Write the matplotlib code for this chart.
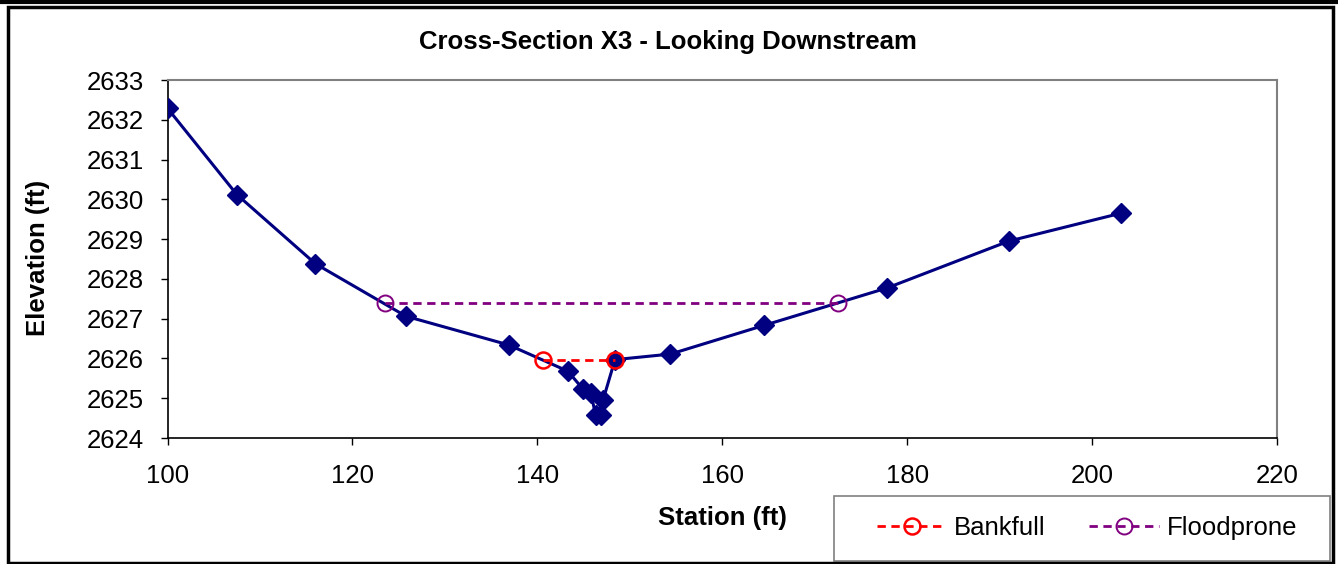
import matplotlib
matplotlib.use('Agg')
from matplotlib import pyplot as plt
from matplotlib.patches import Rectangle

plt.rcParams['font.family'] = ['Liberation Sans', 'DejaVu Sans']

# surveyed cross-section
station = [100.0, 107.5, 116.0, 125.8, 136.9, 143.3, 144.9, 145.8, 146.3, 146.9, 147.1, 148.4,
           154.4, 164.5, 177.8, 191.0, 203.1]
elevation = [2632.29, 2630.12, 2628.38, 2627.06, 2626.34, 2625.68, 2625.24, 2625.12, 2624.58,
             2624.58, 2624.95, 2625.97, 2626.11, 2626.83, 2627.77, 2628.95, 2629.65]

bankfull_x = [140.6, 148.4]
bankfull_y = [2625.97, 2625.97]
flood_x = [123.5, 172.5]
flood_y = [2627.40, 2627.40]

W, H = 1338, 564
fig = plt.figure(figsize=(W / 100, H / 100), dpi=100)
ax = fig.add_axes([167.5 / W, 1 - 438 / H, (1277 - 167.5) / W, (438 - 80) / H])

ax.plot(station, elevation, color='#000080', lw=2.2, marker='D', ms=10.5, mec='#000080',
        mfc='#000080', zorder=3)
bf, = ax.plot(bankfull_x, bankfull_y, color='#ff0000', lw=2.0, ls=(0, (3, 2)), marker='o', ms=11.5,
              mfc='none', mec='#ff0000', mew=1.8, zorder=4, label='Bankfull')
fp, = ax.plot(flood_x, flood_y, color='#800080', lw=2.0, ls=(0, (3, 2)), marker='o', ms=11.5,
              mfc='none', mec='#800080', mew=1.4, zorder=4, label='Floodprone')

ax.set_xlim(100, 220)
ax.set_ylim(2624, 2633)
ax.set_xticks(range(100, 221, 20))
ax.set_yticks(range(2624, 2634))
ax.tick_params(labelsize=18.5, direction='out', length=5, width=1, colors='black')
ax.tick_params(axis='y', pad=12)
ax.tick_params(axis='x', pad=14)
for s in ['top', 'right']:
    ax.spines[s].set_color('#808080')
    ax.spines[s].set_linewidth(1.5)
for s in ['left', 'bottom']:
    ax.spines[s].set_color('black')
    ax.spines[s].set_linewidth(1.2)

fig.text(668 / W, 1 - 42 / H, 'Cross-Section X3 - Looking Downstream', ha='center',
         va='center', fontsize=18.5, fontweight='bold')
fig.text(722 / W, 1 - 518 / H, 'Station (ft)', ha='center', va='center', fontsize=18.5,
         fontweight='bold')
fig.text(38 / W, 1 - 258 / H, 'Elevation (ft)', ha='center', va='center', fontsize=18.5,
         fontweight='bold', rotation=90)

# legend box
fig.patches.append(Rectangle((834 / W, 1 - 561 / H), (1330 - 834) / W, 65 / H,
                             transform=fig.transFigure, fill=False, edgecolor='#808080', lw=1.2))
fig.legend(handles=[bf, fp], loc='center', bbox_to_anchor=(1087 / W, 1 - 528 / H),
           ncol=2, fontsize=18.5, frameon=False, handlelength=2.7,
           columnspacing=1.7, borderpad=0.2, handletextpad=0.3)

# outer chart border
fig.patches.append(Rectangle((8 / W, 0.002), 1325 / W, 1 - 8 / H, transform=fig.transFigure,
                             fill=False, edgecolor='black', lw=2.5))
fig.lines.append(plt.Line2D([0, 1], [1 - 1.5 / H, 1 - 1.5 / H], transform=fig.transFigure,
                            color='black', lw=3))

fig.savefig('out.png', dpi=100)
